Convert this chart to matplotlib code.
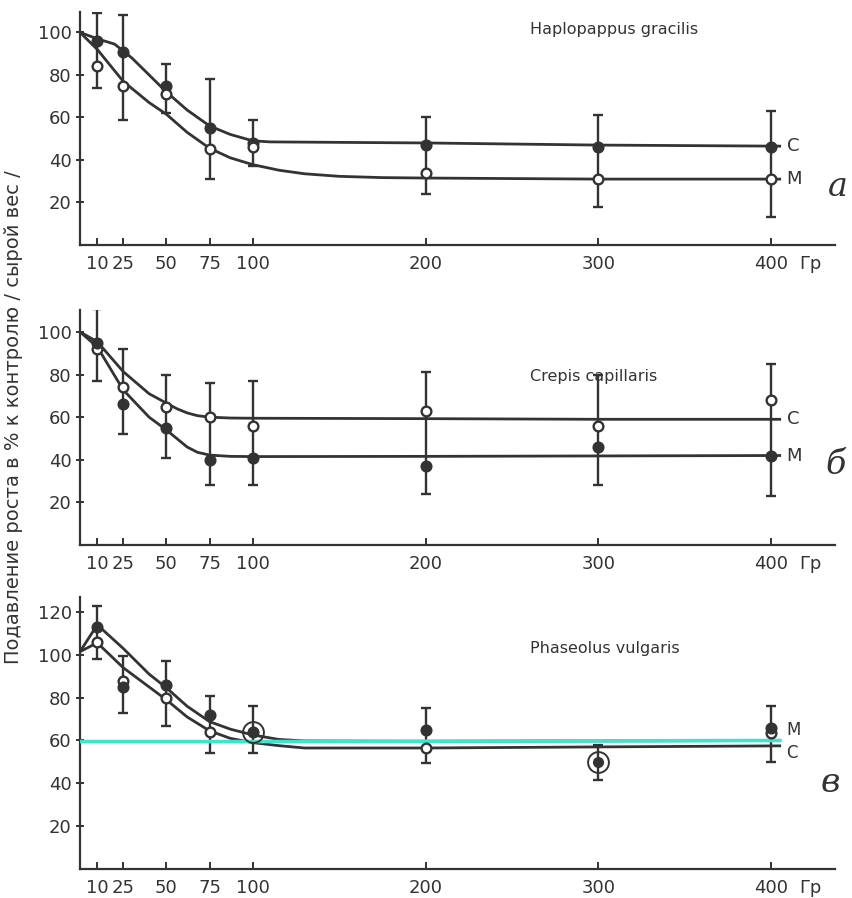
import numpy as np
import matplotlib
matplotlib.use("Agg")
import matplotlib.pyplot as plt

plt.rcParams['font.family'] = ['DejaVu Sans']

# дозы облучения, Гр
doses = [10, 25, 50, 75, 100, 200, 300, 400]

# --- а: Haplopappus gracilis ---
hap_c = [96, 91, 75, 55, 48, 47, 46, 46]
hap_m = [84, 75, 71, 45, 46, 34, 31, 31]
hap_err_lo = [74, 59, 62, 31, 37, 24, 18, 13]
hap_err_hi = [109, 108, 85, 78, 59, 60, 61, 63]
hap_curve_x = [0, 10, 20, 30, 40, 50, 62, 75, 87, 100, 110, 200, 300, 405]
hap_curve_c = [100, 97, 94.5, 88, 80, 72, 63.5, 56, 52, 49, 48.5, 48, 47, 46.5]
hap_curve_mx = [0, 10, 25, 40, 50, 62, 75, 87, 100, 115, 130, 150, 175, 200, 300, 405]
hap_curve_m = [100, 92, 77, 67, 61.5, 53, 45.5, 41, 37.8, 35.2, 33.5, 32.3, 31.7, 31.5, 31, 31]

# --- б: Crepis capillaris ---
cre_c = [92, 74, 65, 60, 56, 63, 56, 68]
cre_m = [95, 66, 55, 40, 41, 37, 46, 42]
cre_err_lo = [77, 52, 41, 28, 28, 24, 28, 23]
cre_err_hi = [111, 92, 80, 76, 77, 81, 80, 85]
cre_curve_x = [0, 10, 25, 40, 50, 56, 62, 68, 75, 87, 100, 200, 300, 405]
cre_curve_c = [100, 95.4, 81.4, 71, 66.6, 64, 62, 60.7, 60, 59.6, 59.5, 59.3, 59, 59]
cre_curve_m = [100, 93, 72.8, 60, 54, 50, 46, 43.5, 42.2, 41.6, 41.5, 41.6, 41.8, 42]

# --- в: Phaseolus vulgaris ---
pha_m = [113, 85, 86, 72, 64, 65, np.nan, 66]
pha_c = [106, 88, 80, 64, np.nan, 56.5, np.nan, 63.5]
pha_err_lo = [98, 73, 67, 54, 54, 49.5, 41.6, 50]
pha_err_hi = [123, 99.5, 97, 81, 76, 75, 58, 76]
pha_curve_x = [0, 10, 25, 40, 50, 62, 75, 87, 100, 115, 130, 200, 300, 405]
pha_curve_m = [101.5, 114, 103, 91, 84.6, 76, 68.8, 65.3, 62.6, 60.5, 59.8, 59.6, 59.8, 60]
pha_curve_c = [101.5, 105.6, 94, 85, 79, 71, 64.5, 61, 59, 57.6, 56.5, 56.5, 57, 57.5]
pha_cyan_x = [0, 100, 405]
pha_cyan_y = [59.5, 59.5, 60]
pha_circled_x = [100, 300]
pha_circled_y = [64, 50]

ink = '#333333'
x_left, x_right = 80 / 853, 835 / 853


def px_box(top_px, bottom_px):
    return [x_left, 1 - bottom_px / 898, x_right - x_left, (bottom_px - top_px) / 898]


def style_axis(ax, ymax, yticks):
    ax.set_xlim(0, 437)
    ax.set_ylim(0, ymax)
    for s in ['top', 'right']:
        ax.spines[s].set_visible(False)
    for s in ['left', 'bottom']:
        ax.spines[s].set_linewidth(1.6)
        ax.spines[s].set_color(ink)
    ax.set_xticks(doses + [423])
    ax.set_xticklabels([str(d) for d in doses] + ['Гр'])
    ax.xaxis.get_major_ticks()[-1].tick1line.set_visible(False)
    ax.set_yticks(yticks)
    ax.tick_params(axis='x', direction='in', length=5, width=1.4, color=ink,
                   labelsize=13, labelcolor=ink, pad=7)
    ax.tick_params(axis='y', direction='inout', length=6, width=1.4, color=ink,
                   labelsize=13, labelcolor=ink, pad=3)


def draw_panel(ax, c_vals, m_vals, lo, hi, cx, cc, mx, mc, c_fill, m_fill):
    lo = np.array(lo)
    hi = np.array(hi)
    mid = (lo + hi) / 2
    ax.errorbar(doses, mid, yerr=[mid - lo, hi - mid], fmt='none', ecolor=ink,
                elinewidth=1.7, capsize=3.5, capthick=1.7, zorder=2)
    ax.plot(cx, cc, color=ink, lw=2.0, zorder=3)
    ax.plot(mx, mc, color=ink, lw=2.0, zorder=3)
    ax.plot(doses, c_vals, 'o', ms=7, mfc=c_fill, mec=ink, mew=1.7, zorder=4)
    ax.plot(doses, m_vals, 'o', ms=7, mfc=m_fill, mec=ink, mew=1.7, zorder=4)


fig = plt.figure(figsize=(8.53, 8.98), dpi=100)

# а
ax1 = fig.add_axes(px_box(12, 245))
style_axis(ax1, 109.6, [20, 40, 60, 80, 100])
draw_panel(ax1, hap_c, hap_m, hap_err_lo, hap_err_hi,
           hap_curve_x, hap_curve_c, hap_curve_mx, hap_curve_m, ink, 'white')
ax1.text(0.596, 0.923, 'Haplopappus gracilis', transform=ax1.transAxes,
         fontsize=11.5, color=ink, va='center')
ax1.text(409, hap_curve_c[-1], 'C', fontsize=13, color=ink, va='center')
ax1.text(409, hap_curve_m[-1], 'M', fontsize=13, color=ink, va='center')

# б
ax2 = fig.add_axes(px_box(310, 545))
style_axis(ax2, 110.3, [20, 40, 60, 80, 100])
draw_panel(ax2, cre_c, cre_m, cre_err_lo, cre_err_hi,
           cre_curve_x, cre_curve_c, cre_curve_x, cre_curve_m, 'white', ink)
ax2.text(0.596, 0.719, 'Crepis capillaris', transform=ax2.transAxes,
         fontsize=11.5, color=ink, va='center')
ax2.text(409, cre_curve_c[-1], 'C', fontsize=13, color=ink, va='center')
ax2.text(409, cre_curve_m[-1], 'M', fontsize=13, color=ink, va='center')

# в
ax3 = fig.add_axes(px_box(597, 869))
style_axis(ax3, 127, [20, 40, 60, 80, 100, 120])
draw_panel(ax3, pha_c, pha_m, pha_err_lo, pha_err_hi,
           pha_curve_x, pha_curve_c, pha_curve_x, pha_curve_m, 'white', ink)
ax3.plot(pha_cyan_x, pha_cyan_y, color='#3fe3cf', lw=2.6, zorder=3.5)
ax3.plot(pha_circled_x, pha_circled_y, 'o', ms=7, mfc=ink, mec=ink, zorder=5)
ax3.plot(pha_circled_x, pha_circled_y, 'o', ms=15, mfc='none', mec=ink, mew=1.4, zorder=5)
ax3.text(0.596, 0.8125, 'Phaseolus vulgaris', transform=ax3.transAxes,
         fontsize=11.5, color=ink, va='center')
ax3.text(409, 65, 'M', fontsize=12, color=ink, va='center')
ax3.text(409, 54, 'C', fontsize=12, color=ink, va='center')

# подписи панелей
fig.text(838 / 853, 1 - 187 / 898, 'а', fontsize=24, style='italic',
         family='DejaVu Serif', color=ink, ha='center', va='center')
fig.text(836 / 853, 1 - 465 / 898, 'б', fontsize=24, style='italic',
         family='DejaVu Serif', color=ink, ha='center', va='center')
fig.text(830 / 853, 1 - 783 / 898, 'в', fontsize=24, style='italic',
         family='DejaVu Serif', color=ink, ha='center', va='center')

fig.text(14 / 853, 1 - 417 / 898, 'Подавление роста в % к контролю / сырой вес /',
         rotation=90, fontsize=14, color=ink, ha='center', va='center')

fig.savefig('out.png', dpi=100, facecolor='white')
